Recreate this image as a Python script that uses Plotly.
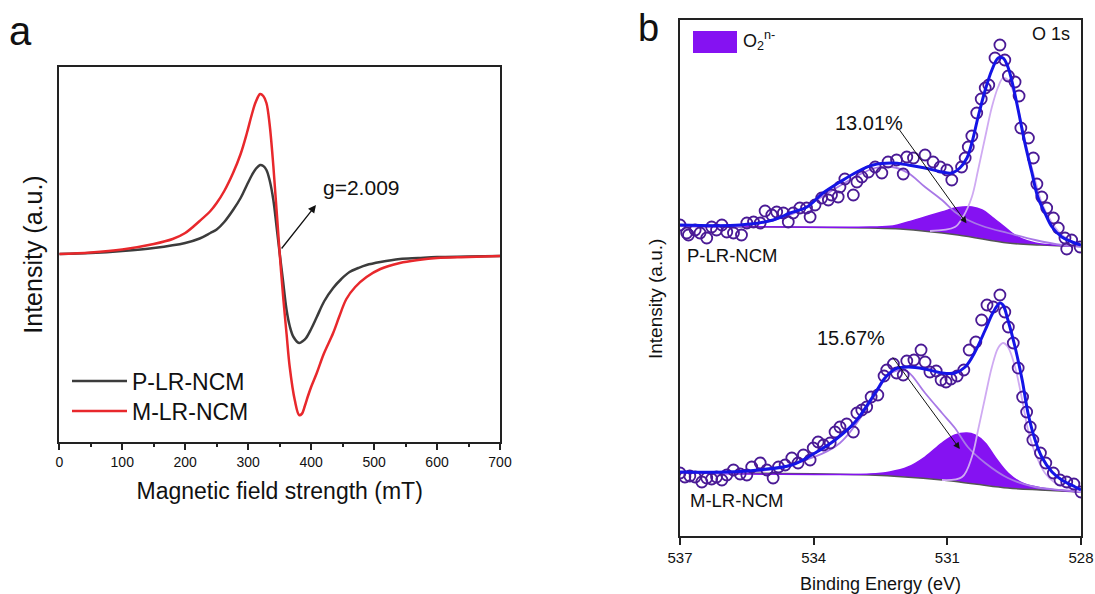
import plotly.graph_objects as go

# ---------------- Panel a: EPR ----------------
p_field = [0, 50, 100, 150, 200, 223, 240, 250, 262, 276, 288, 298, 306, 312, 319, 324, 329, 334, 340, 345, 350,
           355, 361, 366, 372, 381, 387, 392, 400, 409, 421, 435, 448, 461, 475, 488, 510, 541, 570, 600, 650, 700]
p_int = [0, 1, 3, 6, 11, 15.5, 21, 24.5, 32, 44, 56, 69, 79, 85, 89, 88, 84, 74, 54, 28, 1,
         -25, -56, -72, -83, -89, -87, -84, -75, -63, -47, -34, -25, -18, -14, -11, -8, -5, -4, -3, -2.5, -2]

m_field = [0, 50, 100, 150, 180, 200, 223, 240, 250, 262, 276, 288, 298, 306, 312, 319, 324, 329, 334, 340, 345, 350,
           356, 361, 366, 374, 381, 385, 390, 395, 400, 409, 420, 435, 445, 456, 470, 488, 510, 541, 570, 600, 650, 700]
m_int = [0, 1.5, 4.5, 10, 15, 21, 33, 43, 51, 63, 81, 100, 121, 140, 152, 160, 158, 151, 130, 88, 45, 1,
         -46, -80, -113, -146, -161, -160, -152, -142, -133, -119, -100, -79, -62, -45, -33, -23, -15, -9, -6, -4, -3, -2]

a_xticks = [0, 100, 200, 300, 400, 500, 600, 700]

# ---------------- Panel b: XPS O 1s ----------------
# P-LR-NCM (upper spectrum)
pt_E = [537.00, 536.85, 536.81, 536.66, 536.55, 536.40, 536.29, 536.18, 536.06, 535.95, 535.80, 535.62,
        535.50, 535.35, 535.20, 535.09, 534.94, 534.83, 534.68, 534.57, 534.46, 534.31, 534.16, 534.08,
        533.97, 533.82, 533.67, 533.60, 533.45, 533.41, 533.30, 533.11, 533.03, 532.92, 532.77, 532.62,
        532.47, 532.33, 532.14, 531.99, 531.91, 531.76, 531.50, 531.32, 531.16, 531.01, 530.90, 530.68,
        530.60, 530.53, 530.45, 530.34, 530.24, 530.15, 530.07, 529.93, 529.82, 529.71, 529.63, 529.48,
        529.39, 529.35, 529.18, 529.07, 528.99, 528.88, 528.77, 528.62, 528.51, 528.36, 528.32, 528.21, 528.02]
pt_I = [311, 303, 301, 306, 303, 298, 309, 306, 311, 304, 303, 301,
        313, 314, 313, 325, 321, 324, 323, 314, 323, 328, 328, 319,
        331, 338, 336, 341, 339, 349, 357, 341, 354, 359, 364, 369,
        363, 374, 376, 362, 379, 378, 381, 374, 369, 366, 356, 369,
        378, 389, 400, 423, 437, 448, 451, 478, 491, 476, 460, 454,
        440, 408, 398, 378, 352, 339, 328, 318, 308, 298, 287, 296, 289]

pf_E = [537.00, 535.65, 534.91, 534.53, 534.15, 533.79, 533.41, 533.03, 532.67, 532.24, 531.88, 531.50, 531.12,
        530.90, 530.72, 530.56, 530.45, 530.31, 530.15, 530.00, 529.86, 529.75, 529.64, 529.53, 529.41, 529.26,
        529.10, 528.97, 528.81, 528.65, 528.43, 528.20, 528.00]
pf_I = [311, 311, 316, 323, 329, 343, 354, 364, 371, 373, 371, 368, 364,
        363, 368, 378, 393, 419, 446, 466, 478, 478, 469, 451, 426, 393,
        363, 339, 323, 309, 299, 294, 291]

pbg_E = [537.00, 532.74, 532.06, 530.76, 529.64, 528.92, 528.00]
pbg_I = [310, 308, 307, 301, 293, 291, 289.5]

po2_E = [537.00, 532.74, 532.22, 531.88, 531.50, 531.12, 530.83, 530.65, 530.45, 530.22, 530.00, 529.77,
         529.55, 529.32, 529.03, 528.65, 528.00]
po2_I = [310, 309, 310, 314, 319, 324, 328, 329, 329, 326, 319, 311,
         303, 297, 293, 291, 289.5]

pc1_E = [537.00, 535.65, 534.53, 533.79, 533.03, 532.62, 532.24, 531.88, 531.50, 531.12, 530.83, 530.54,
         530.15, 529.64, 529.03, 528.43, 528.00]
pc1_I = [310, 310, 321, 340, 360, 368, 369, 363, 349, 336, 324, 316,
         309, 303, 296, 291, 289.5]

pc2_E = [531.39, 530.83, 530.65, 530.45, 530.31, 530.15, 530.00, 529.86, 529.75, 529.64, 529.48, 529.32,
         529.19, 529.03, 528.88, 528.65, 528.43, 528.13, 528.00]
pc2_I = [305, 309, 319, 339, 366, 399, 429, 449, 458, 456, 439, 409,
         383, 356, 333, 313, 301, 293, 290]

# M-LR-NCM (lower spectrum)
mt_E = [537.00, 536.89, 536.78, 536.66, 536.51, 536.40, 536.29, 536.18, 536.06, 535.95, 535.80, 535.65,
        535.50, 535.39, 535.20, 535.05, 534.91, 534.79, 534.64, 534.49, 534.35, 534.23, 534.08, 534.01,
        533.90, 533.78, 533.63, 533.52, 533.41, 533.26, 533.11, 533.03, 532.92, 532.81, 532.71, 532.56,
        532.42, 532.36, 532.21, 532.14, 531.99, 531.91, 531.75, 531.59, 531.50, 531.39, 531.25, 531.14,
        531.03, 530.92, 530.78, 530.63, 530.51, 530.36, 530.23, 530.11, 529.97, 529.82, 529.71, 529.63,
        529.52, 529.41, 529.31, 529.22, 529.14, 529.08, 528.91, 528.79, 528.62, 528.47, 528.32, 528.16, 528.00]
mt_I = [63, 59, 60, 59, 54, 58, 57, 59, 56, 61, 66, 62,
        61, 69, 73, 66, 58, 69, 71, 78, 73, 81, 76, 88,
        94, 91, 93, 104, 109, 112, 104, 123, 126, 129, 139, 141,
        160, 166, 172, 163, 161, 175, 176, 186, 174, 164, 165, 156,
        154, 157, 160, 166, 186, 194, 216, 231, 229, 241, 224, 209,
        193, 168, 139, 124, 109, 96, 83, 73, 63, 56, 54, 52, 44]

mf_E = [537.00, 535.99, 535.25, 534.49, 533.97, 533.52, 533.07, 532.62, 532.40, 532.17, 531.88, 531.50, 531.12,
        530.83, 530.60, 530.38, 530.15, 529.98, 529.82, 529.75, 529.64, 529.48, 529.32, 529.19, 529.03, 528.88,
        528.65, 528.43, 528.13, 528.00]
mf_I = [64, 64, 66, 71, 83, 96, 114, 143, 158, 167, 169, 167, 163,
        163, 169, 184, 206, 223, 233, 231, 216, 189, 156, 123, 96, 79,
        64, 56, 49, 46]

mbg_E = [537.00, 532.74, 531.12, 530.38, 529.64, 528.92, 528.00]
mbg_I = [63, 61, 56, 52, 48, 46, 44]

mo2_E = [537.00, 532.74, 532.29, 531.88, 531.50, 531.12, 530.83, 530.56, 530.38, 530.15, 529.93, 529.64,
         529.32, 528.88, 528.00]
mo2_I = [63, 62, 64, 69, 79, 93, 101, 103, 101, 93, 79, 63,
         53, 48, 44]

mc1_E = [537.00, 535.20, 534.31, 533.41, 532.62, 532.33, 532.06, 531.88, 531.50, 531.12, 530.83, 530.54,
         530.15, 529.64, 529.03, 528.43, 528.00]
mc1_I = [63, 65, 74, 93, 141, 161, 166, 164, 143, 123, 108, 89,
         73, 58, 49, 46, 44]

mc2_E = [531.12, 530.67, 530.45, 530.31, 530.15, 530.00, 529.86, 529.75, 529.64, 529.48, 529.32, 529.19,
         529.03, 528.81, 528.58, 528.13, 528.00]
mc2_I = [56, 59, 79, 106, 139, 169, 188, 193, 189, 169, 136, 106,
         83, 63, 53, 46, 44]

b_xticks = [537, 534, 531, 528]

FONT = "Arial, Liberation Sans, sans-serif"
MARK = "#4a1a95"
FIT = "#1414e6"
FILL = "#8512f2"
COMP1 = "#a878e6"
COMP2 = "#cfaaf2"
BG = "#555555"

fig = go.Figure()

# panel a
fig.add_trace(go.Scatter(x=p_field, y=p_int, mode="lines", name="P-LR-NCM",
                         line=dict(color="#3c3c3c", width=2.5, shape="spline", smoothing=1.0),
                         xaxis="x", yaxis="y", legend="legend"))
fig.add_trace(go.Scatter(x=m_field, y=m_int, mode="lines", name="M-LR-NCM",
                         line=dict(color="#e8282c", width=2.5, shape="spline", smoothing=1.0),
                         xaxis="x", yaxis="y", legend="legend3"))


def add_spectrum(bgE, bgI, o2E, o2I, c1E, c1I, c2E, c2I, ptE, ptI, fE, fI):
    fig.add_trace(go.Scatter(x=bgE, y=bgI, mode="lines", showlegend=False,
                             line=dict(color=BG, width=1.5, shape="spline"),
                             xaxis="x2", yaxis="y2"))
    fig.add_trace(go.Scatter(x=o2E, y=o2I, mode="lines", name="O<sub>2</sub><sup>n-</sup>",
                             showlegend=False,
                             fill="tonexty", fillcolor=FILL,
                             line=dict(color=FILL, width=1.5, shape="spline"),
                             xaxis="x2", yaxis="y2"))
    fig.add_trace(go.Scatter(x=c1E, y=c1I, mode="lines", showlegend=False,
                             line=dict(color=COMP1, width=1.8, shape="spline"),
                             xaxis="x2", yaxis="y2"))
    fig.add_trace(go.Scatter(x=c2E, y=c2I, mode="lines", showlegend=False,
                             line=dict(color=COMP2, width=1.8, shape="spline"),
                             xaxis="x2", yaxis="y2"))
    fig.add_trace(go.Scatter(x=ptE, y=ptI, mode="markers", showlegend=False,
                             marker=dict(symbol="circle-open", size=11, color=MARK,
                                         line=dict(width=1.8, color=MARK)),
                             xaxis="x2", yaxis="y2"))
    fig.add_trace(go.Scatter(x=fE, y=fI, mode="lines", showlegend=False,
                             line=dict(color=FIT, width=3, shape="spline"),
                             xaxis="x2", yaxis="y2"))


add_spectrum(pbg_E, pbg_I, po2_E, po2_I, pc1_E, pc1_I, pc2_E, pc2_I, pt_E, pt_I, pf_E, pf_I)
add_spectrum(mbg_E, mbg_I, mo2_E, mo2_I, mc1_E, mc1_I, mc2_E, mc2_I, mt_E, mt_I, mf_E, mf_I)

axis_common = dict(showline=True, linecolor="#222222", linewidth=1.6, mirror=True,
                   showgrid=False, zeroline=False, automargin=False)

W, H = 1095, 594

annotations = [
    dict(text="a", x=20 / W, y=1 - 31 / H, xref="paper", yref="paper", xanchor="center", yanchor="middle",
         showarrow=False, font=dict(size=40, color="#111", family=FONT)),
    dict(text="b", x=648 / W, y=1 - 28 / H, xref="paper", yref="paper", xanchor="center", yanchor="middle",
         showarrow=False, font=dict(size=38, color="#111", family=FONT)),
    # g-value arrow
    dict(x=407.7, y=49, ax=351.2, ay=4, xref="x", yref="y", axref="x", ayref="y", text="",
         showarrow=True, arrowhead=2, arrowsize=1.2, arrowwidth=1.3, arrowcolor="#111"),
    dict(text="g=2.009", x=415, y=67, xref="x", yref="y", xanchor="left", yanchor="middle",
         showarrow=False, font=dict(size=21, color="#111", family=FONT)),
    # panel b labels
    dict(text="Intensity (a.u.)", x=655 / W, y=1 - 299 / H, xref="paper", yref="paper",
         xanchor="center", yanchor="middle", textangle=-90,
         showarrow=False, font=dict(size=19, color="#111", family=FONT)),
    dict(text="O<sub>2</sub><sup>n-</sup>", x=741 / W, y=1 - 40 / H, xref="paper", yref="paper",
         xanchor="left", yanchor="middle",
         showarrow=False, font=dict(size=18, color="#111", family=FONT)),
    dict(text="O 1s", x=528.2, y=502, xref="x2", yref="y2", xanchor="right", yanchor="middle",
         showarrow=False, font=dict(size=18, color="#111", family=FONT)),
    dict(text="13.01%", x=532.76, y=412.5, xref="x2", yref="y2", xanchor="center", yanchor="middle",
         showarrow=False, font=dict(size=20, color="#111", family=FONT)),
    dict(text="15.67%", x=533.16, y=198, xref="x2", yref="y2", xanchor="center", yanchor="middle",
         showarrow=False, font=dict(size=20, color="#111", family=FONT)),
    dict(x=530.57, y=312.7, ax=532.10, ay=407.7, xref="x2", yref="y2", axref="x2", ayref="y2", text="",
         showarrow=True, arrowhead=2, arrowsize=1.3, arrowwidth=1, arrowcolor="#111"),
    dict(x=530.72, y=87, ax=532.25, ay=180, xref="x2", yref="y2", axref="x2", ayref="y2", text="",
         showarrow=True, arrowhead=2, arrowsize=1.3, arrowwidth=1, arrowcolor="#111"),
    dict(text="P-LR-NCM", x=536.89, y=280, xref="x2", yref="y2", xanchor="left", yanchor="middle",
         showarrow=False, font=dict(size=18.5, color="#111", family=FONT)),
    dict(text="M-LR-NCM", x=536.81, y=36, xref="x2", yref="y2", xanchor="left", yanchor="middle",
         showarrow=False, font=dict(size=18.5, color="#111", family=FONT)),
]

# legend swatch for the O2n- filled component
shapes = [dict(type="rect", xref="paper", yref="paper",
               x0=693 / W, x1=737 / W, y0=1 - 53 / H, y1=1 - 31 / H,
               fillcolor=FILL, line=dict(width=0))]

leg_common = dict(xanchor="left", yanchor="middle", bgcolor="rgba(0,0,0,0)", borderwidth=0,
                  itemwidth=55, font=dict(size=23, family=FONT, color="#111"))

fig.update_layout(
    width=W, height=H,
    margin=dict(l=0, r=0, t=0, b=0),
    paper_bgcolor="white", plot_bgcolor="white",
    font=dict(family=FONT, color="#111"),
    xaxis=dict(domain=[59.3 / W, 500 / W], range=[0, 700], tickvals=a_xticks,
               ticks="outside", ticklen=6, tickwidth=1.5, tickcolor="#222",
               minor=dict(ticks="outside", ticklen=3, dtick=50, tickwidth=1.5, tickcolor="#222"),
               tickfont=dict(size=14, family=FONT),
               title=dict(text="Magnetic field strength (mT)", font=dict(size=23, family=FONT), standoff=14),
               anchor="y", **axis_common),
    yaxis=dict(domain=[1 - 442 / H, 1 - 67 / H], range=[-188, 187], showticklabels=False, ticks="",
               title=dict(text="Intensity (a.u.)", font=dict(size=25, family=FONT), standoff=8),
               anchor="x", **axis_common),
    xaxis2=dict(domain=[680 / W, 1081 / W], range=[537, 528], tickvals=b_xticks,
                ticks="outside", ticklen=7, tickwidth=1.5, tickcolor="#222",
                tickfont=dict(size=15, family=FONT),
                title=dict(text="Binding Energy (eV)", font=dict(size=18, family=FONT), standoff=16),
                anchor="y2", **axis_common),
    yaxis2=dict(domain=[1 - 536 / H, 1 - 20 / H], range=[0, 516], showticklabels=False, ticks="",
                anchor="x2", **axis_common),
    legend=dict(x=67 / W, y=1 - 381 / H, **leg_common),
    legend3=dict(x=67 / W, y=1 - 411 / H, **leg_common),
    annotations=annotations,
    shapes=shapes,
)

fig.write_html("out.html")
